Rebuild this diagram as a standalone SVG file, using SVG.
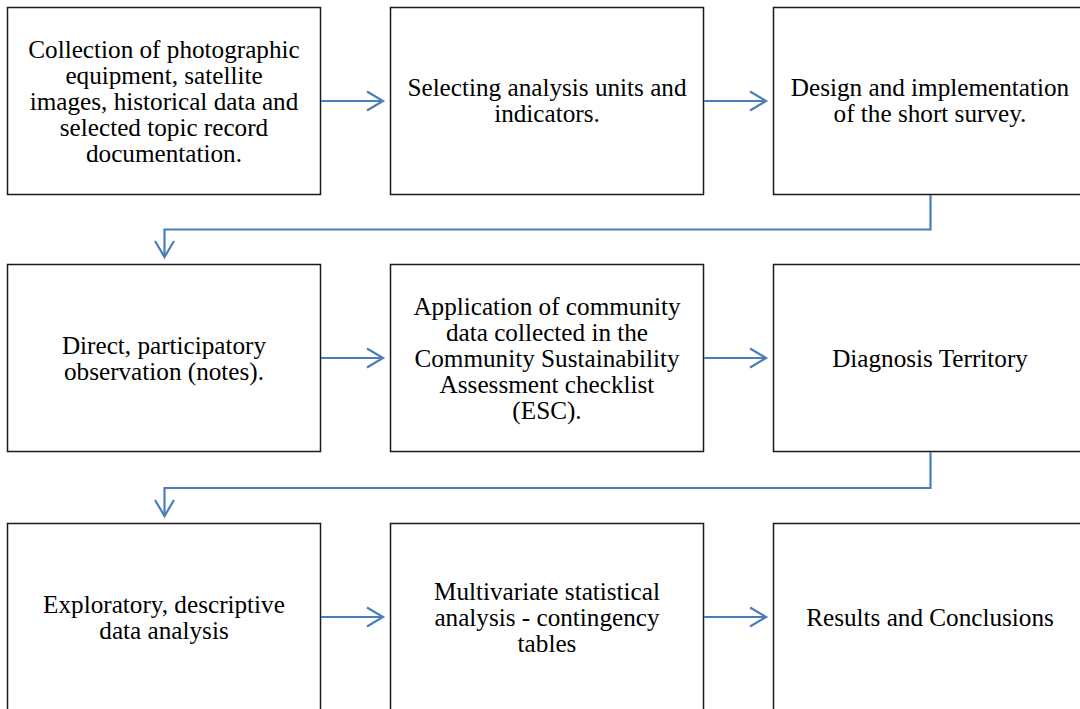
<svg xmlns="http://www.w3.org/2000/svg" width="1080" height="709" viewBox="0 0 1080 709">
<style>
.box{fill:#fff;stroke:#1a1a1a;stroke-width:1.5}
.t{font-family:"Liberation Serif","Times New Roman",serif;font-size:25.2px;fill:#000;text-anchor:middle}
.c{fill:none;stroke:#4a7ebb;stroke-width:2.2}
</style>
<defs>
<marker id="ah" markerWidth="20" markerHeight="22" refX="17" refY="11" orient="auto" markerUnits="userSpaceOnUse">
<path d="M1,1.5 L17,11 L1,20.5" fill="none" stroke="#4a7ebb" stroke-width="2.2"/>
</marker>
</defs>
<rect width="1080" height="709" fill="#fff"/>
<g id="n1"><rect class="box" x="7.5" y="7.5" width="313" height="187"/>
<text class="t"><tspan x="164" y="57.5">Collection of photographic</tspan><tspan x="164" y="83.5">equipment, satellite</tspan><tspan x="164" y="109.5">images, historical data and</tspan><tspan x="164" y="135.5">selected topic record</tspan><tspan x="164" y="161.5">documentation.</tspan></text></g>
<g id="n2"><rect class="box" x="390.5" y="7.5" width="313" height="187"/>
<text class="t"><tspan x="547" y="96">Selecting analysis units and</tspan><tspan x="547" y="122">indicators.</tspan></text></g>
<g id="n3"><rect class="box" x="773.5" y="7.5" width="320" height="187"/>
<text class="t"><tspan x="930" y="96">Design and implementation</tspan><tspan x="930" y="122">of the short survey.</tspan></text></g>
<g id="n4"><rect class="box" x="7.5" y="264.5" width="313" height="187"/>
<text class="t"><tspan x="164" y="354">Direct, participatory</tspan><tspan x="164" y="380">observation (notes).</tspan></text></g>
<g id="n5"><rect class="box" x="390.5" y="264.5" width="313" height="187"/>
<text class="t"><tspan x="547" y="315">Application of community</tspan><tspan x="547" y="341">data collected in the</tspan><tspan x="547" y="367">Community Sustainability</tspan><tspan x="547" y="393">Assessment checklist</tspan><tspan x="547" y="419">(ESC).</tspan></text></g>
<g id="n6"><rect class="box" x="773.5" y="264.5" width="320" height="187"/>
<text class="t"><tspan x="930" y="367">Diagnosis Territory</tspan></text></g>
<g id="n7"><rect class="box" x="7.5" y="523.5" width="313" height="200"/>
<text class="t"><tspan x="164" y="613">Exploratory, descriptive</tspan><tspan x="164" y="639">data analysis</tspan></text></g>
<g id="n8"><rect class="box" x="390.5" y="523.5" width="313" height="200"/>
<text class="t"><tspan x="547" y="600">Multivariate statistical</tspan><tspan x="547" y="626">analysis - contingency</tspan><tspan x="547" y="652">tables</tspan></text></g>
<g id="n9"><rect class="box" x="773.5" y="523.5" width="320" height="200"/>
<text class="t"><tspan x="930" y="626">Results and Conclusions</tspan></text></g>
<g id="connectors">
<path class="c" d="M321,101 H383" marker-end="url(#ah)"/>
<path class="c" d="M704,101 H766" marker-end="url(#ah)"/>
<path class="c" d="M930.5,195 V229.5 H164.5 V257" marker-end="url(#ah)"/>
<path class="c" d="M321,358 H383" marker-end="url(#ah)"/>
<path class="c" d="M704,358 H766" marker-end="url(#ah)"/>
<path class="c" d="M930.5,452 V488 H164.5 V516" marker-end="url(#ah)"/>
<path class="c" d="M321,617 H383" marker-end="url(#ah)"/>
<path class="c" d="M704,617 H766" marker-end="url(#ah)"/>
</g>
</svg>
